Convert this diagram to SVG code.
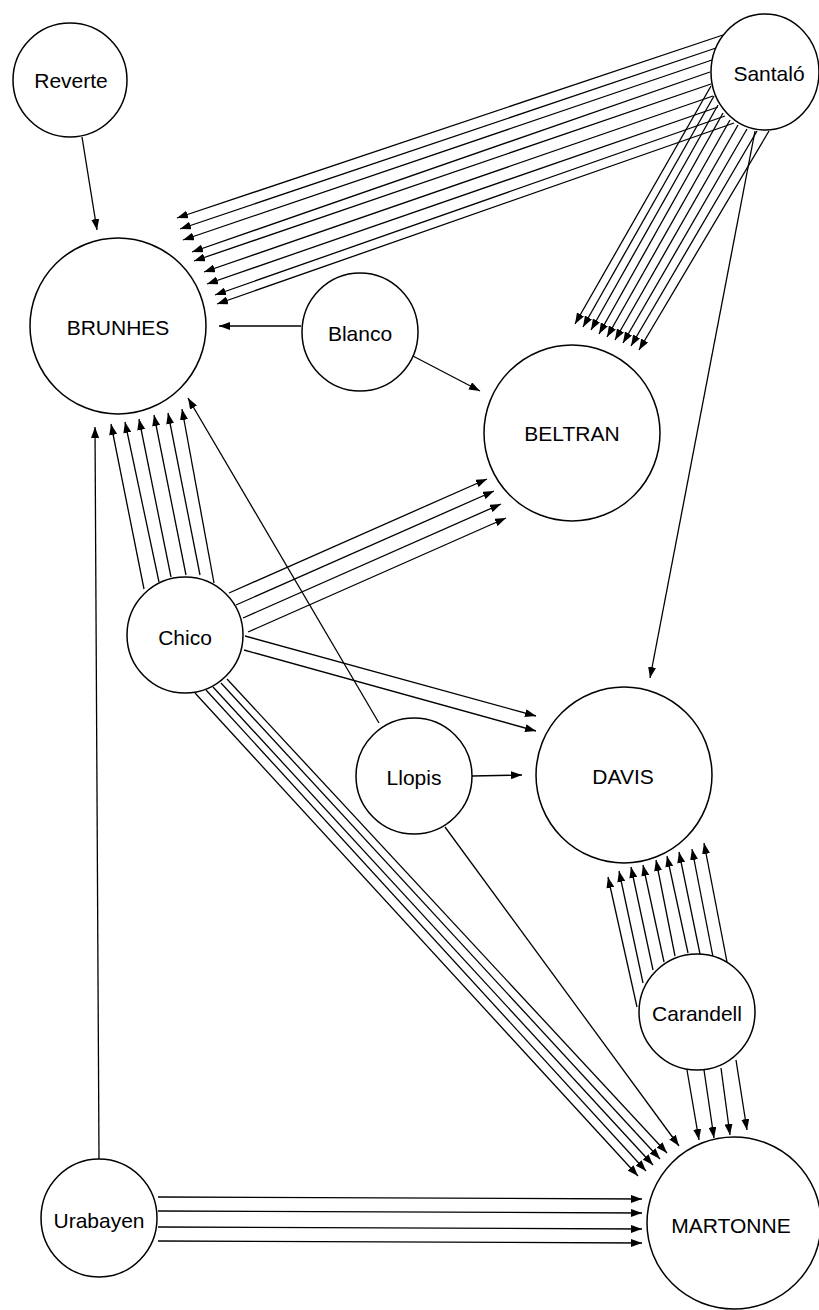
<svg xmlns="http://www.w3.org/2000/svg" width="819" height="1310" viewBox="0 0 819 1310">
<style>
.node ellipse{fill:#fff;stroke:#000;stroke-width:1.5}
.node text{font-family:"Liberation Sans",Arial,sans-serif;font-size:21px;fill:#000;text-anchor:middle}
.edges line{stroke:#000;stroke-width:1.3;marker-end:url(#ah)}
</style>
<defs>
<marker id="ah" markerUnits="userSpaceOnUse" markerWidth="11" markerHeight="8" refX="11" refY="4" orient="auto">
<path d="M0,0 L11,4 L0,8 z" fill="#000"/>
</marker>
</defs>
<rect width="819" height="1310" fill="#fff"/>
<g class="edges" id="connectors">
<!-- Reverte -> BRUNHES -->
<line x1="82" y1="137" x2="97" y2="230"/>
<!-- Santalo -> BRUNHES -->
<line x1="723" y1="35" x2="177" y2="218"/>
<line x1="716" y1="48" x2="180" y2="229"/>
<line x1="712" y1="60" x2="183" y2="240"/>
<line x1="710" y1="72" x2="192" y2="252"/>
<line x1="711" y1="84" x2="194" y2="261"/>
<line x1="713" y1="96" x2="204" y2="272"/>
<line x1="718" y1="107" x2="207" y2="284"/>
<line x1="725" y1="116" x2="215" y2="295"/>
<line x1="734" y1="123" x2="217" y2="304"/>
<!-- Santalo -> BELTRAN -->
<line x1="711" y1="86" x2="575" y2="324"/>
<line x1="714" y1="96" x2="583" y2="327"/>
<line x1="718" y1="105" x2="591" y2="330"/>
<line x1="723" y1="113" x2="599" y2="334"/>
<line x1="730" y1="120" x2="607" y2="337"/>
<line x1="738" y1="125" x2="615" y2="340"/>
<line x1="747" y1="129" x2="623" y2="343"/>
<line x1="757" y1="131" x2="631" y2="346"/>
<line x1="769" y1="131" x2="639" y2="350"/>
<!-- Santalo -> DAVIS -->
<line x1="755" y1="131" x2="650" y2="678"/>
<!-- Blanco -> BRUNHES, BELTRAN -->
<line x1="301" y1="326" x2="219" y2="326"/>
<line x1="411" y1="355" x2="480" y2="391"/>
<!-- Chico -> BRUNHES -->
<line x1="144" y1="589" x2="111" y2="424"/>
<line x1="159" y1="582" x2="125" y2="422"/>
<line x1="171" y1="577" x2="139" y2="419"/>
<line x1="186" y1="575" x2="154" y2="415"/>
<line x1="200" y1="575" x2="168" y2="413"/>
<line x1="214" y1="583" x2="182" y2="409"/>
<!-- Chico -> BELTRAN -->
<line x1="229" y1="593" x2="487" y2="479"/>
<line x1="236" y1="605" x2="494" y2="491"/>
<line x1="243" y1="618" x2="501" y2="504"/>
<line x1="248" y1="632" x2="506" y2="518"/>
<!-- Chico -> DAVIS -->
<line x1="245" y1="636" x2="536" y2="716"/>
<line x1="244" y1="650" x2="536" y2="731"/>
<!-- Chico -> MARTONNE -->
<line x1="195" y1="693" x2="638" y2="1176"/>
<line x1="206" y1="690" x2="646" y2="1171"/>
<line x1="213" y1="687" x2="653" y2="1165"/>
<line x1="221" y1="683" x2="660" y2="1159"/>
<line x1="227" y1="679" x2="667" y2="1153"/>
<!-- Llopis -->
<line x1="379" y1="723" x2="188" y2="398"/>
<line x1="472" y1="776" x2="522" y2="775"/>
<line x1="445" y1="827" x2="679" y2="1146"/>
<!-- Carandell -> DAVIS -->
<line x1="637" y1="1007" x2="608" y2="877"/>
<line x1="643" y1="983" x2="619" y2="871"/>
<line x1="653" y1="970" x2="631" y2="867"/>
<line x1="664" y1="962" x2="643" y2="865"/>
<line x1="675" y1="956" x2="656" y2="860"/>
<line x1="688" y1="953" x2="667" y2="856"/>
<line x1="700" y1="954" x2="679" y2="852"/>
<line x1="713" y1="957" x2="692" y2="849"/>
<line x1="727" y1="962" x2="704" y2="843"/>
<!-- Carandell -> MARTONNE -->
<line x1="687" y1="1070" x2="699" y2="1140"/>
<line x1="704" y1="1070" x2="714" y2="1138"/>
<line x1="721" y1="1068" x2="730" y2="1135"/>
<line x1="736" y1="1060" x2="747" y2="1130"/>
<!-- Urabayen -> BRUNHES -->
<line x1="99" y1="1159" x2="95" y2="427"/>
<!-- Urabayen -> MARTONNE -->
<line x1="158" y1="1197" x2="642" y2="1199"/>
<line x1="158" y1="1211" x2="642" y2="1213"/>
<line x1="158" y1="1227" x2="642" y2="1229"/>
<line x1="158" y1="1241" x2="642" y2="1243"/>
</g>
<g class="node" id="reverte"><ellipse cx="70" cy="80" rx="57" ry="57"/><text x="71" y="88">Reverte</text></g>
<g class="node" id="santalo"><ellipse cx="765" cy="72" rx="54" ry="58"/><text x="769" y="81">Santaló</text></g>
<g class="node" id="brunhes"><ellipse cx="118" cy="326" rx="88" ry="88"/><text x="118" y="335">BRUNHES</text></g>
<g class="node" id="blanco"><ellipse cx="360" cy="332" rx="58" ry="59"/><text x="360" y="341">Blanco</text></g>
<g class="node" id="beltran"><ellipse cx="572" cy="433" rx="88" ry="88"/><text x="572" y="441">BELTRAN</text></g>
<g class="node" id="chico"><ellipse cx="185" cy="635" rx="58" ry="58"/><text x="185" y="645">Chico</text></g>
<g class="node" id="llopis"><ellipse cx="414" cy="776" rx="58" ry="58"/><text x="414" y="785">Llopis</text></g>
<g class="node" id="davis"><ellipse cx="624" cy="775" rx="88" ry="88"/><text x="623" y="784">DAVIS</text></g>
<g class="node" id="carandell"><ellipse cx="697" cy="1012" rx="58" ry="58"/><text x="697" y="1021">Carandell</text></g>
<g class="node" id="urabayen"><ellipse cx="99" cy="1218" rx="58" ry="59"/><text x="99" y="1228">Urabayen</text></g>
<g class="node" id="martonne"><ellipse cx="734" cy="1223" rx="87" ry="86"/><text x="731" y="1233">MARTONNE</text></g>
</svg>
